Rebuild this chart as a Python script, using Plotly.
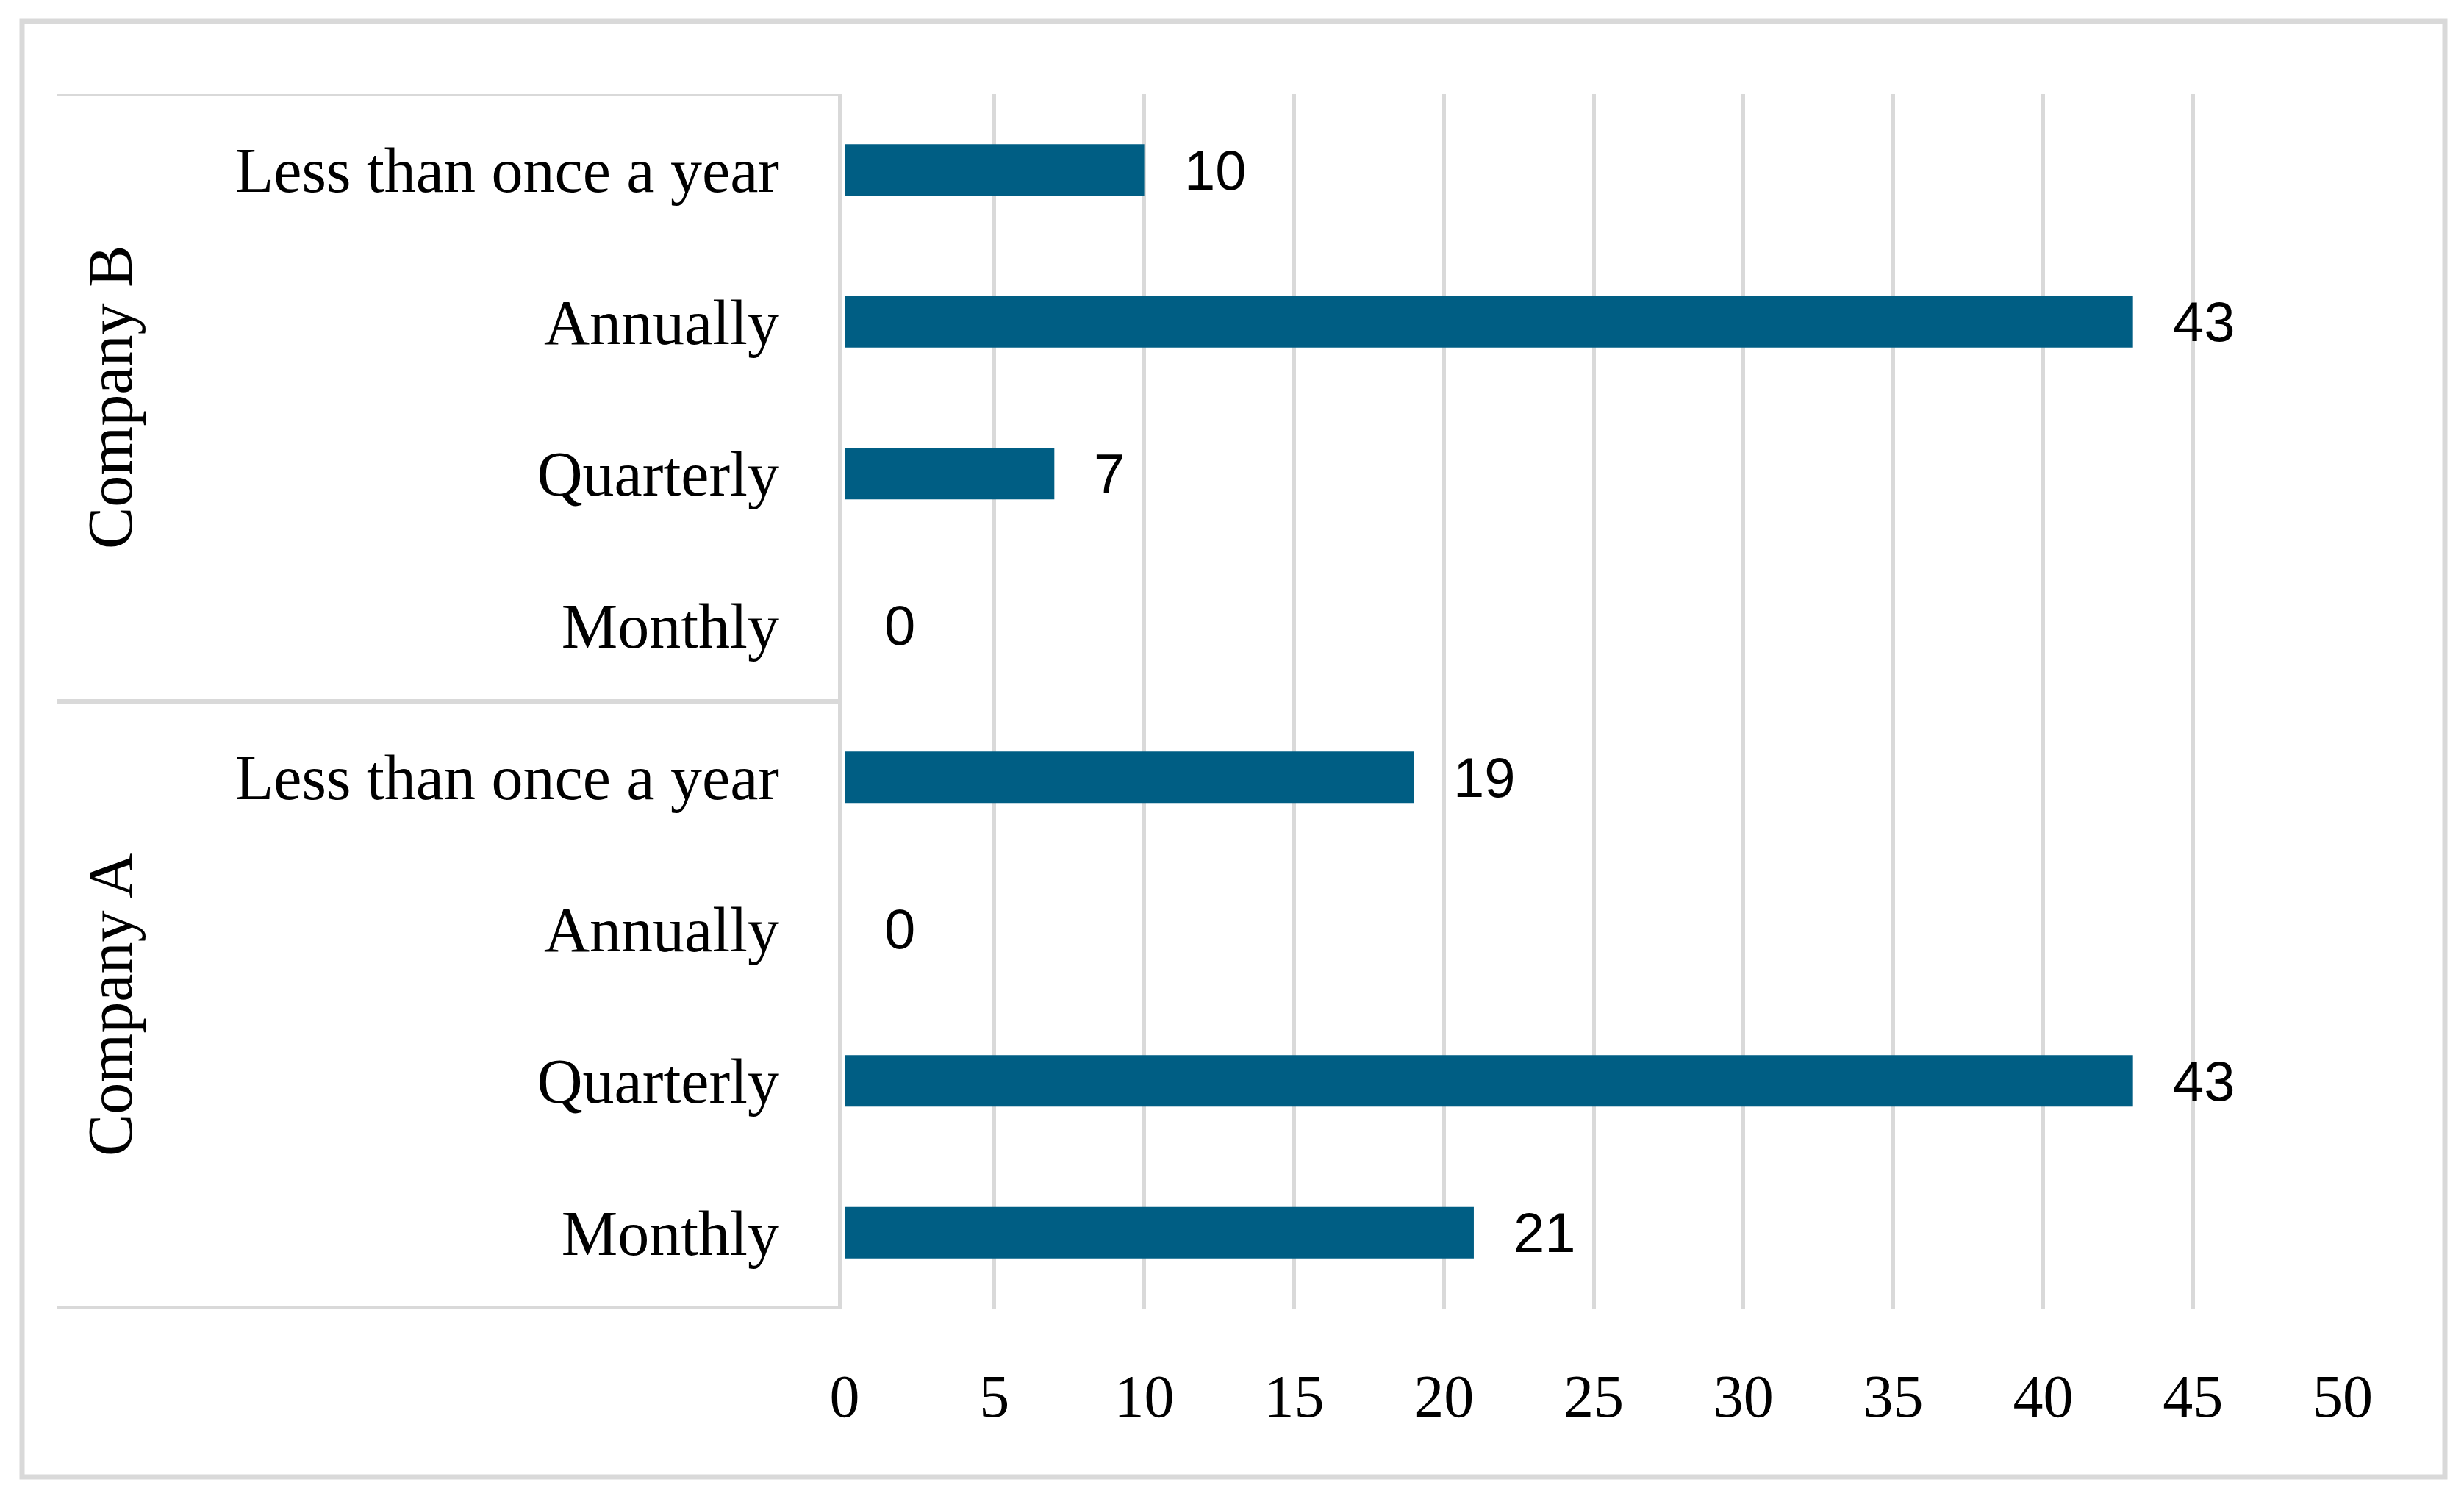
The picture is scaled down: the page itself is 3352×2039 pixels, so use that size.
import plotly.graph_objects as go

# ---- data ----
companies = ["Company A"] * 4 + ["Company B"] * 4
frequencies = ["Monthly", "Quarterly", "Annually", "Less than once a year"] * 2
values = [21, 43, 0, 19, 0, 7, 43, 10]
x_ticks = [0, 5, 10, 15, 20, 25, 30, 35, 40, 45, 50]

# browser body margin compensation
OFF = 8
W, H = 3352 - OFF, 2039 - OFF
L, R, T, B = 1149 - OFF, 3352 - 3187, 128 - OFF, 2039 - 1780
PW, PH = W - L - R, H - T - B


def px_x(p):
    return (p - OFF - L) / PW


def px_y(p):
    return 1 - (p - OFF - T) / PH


keys = [f"{c}|{f}" for c, f in zip(companies, frequencies)]
BAR = "#005E84"
GRID = "#D9D9D9"
SERIF = "Liberation Serif"
SANS = "Liberation Sans"

fig = go.Figure()
fig.add_trace(go.Bar(
    x=values, y=keys, orientation="h",
    marker=dict(color=BAR, line=dict(width=0)),
    showlegend=False, hoverinfo="x+y",
))

# data labels
for k, v in zip(keys, values):
    fig.add_annotation(x=v, y=k, xref="x", yref="y", text=str(v),
                       showarrow=False, xanchor="left", xshift=52,
                       font=dict(family=SANS, size=76, color="#000000"))

# company group labels
for comp in ["Company A", "Company B"]:
    idx = [i for i, c in enumerate(companies) if c == comp]
    mid = (min(idx) + max(idx)) / 2
    fig.add_annotation(x=px_x(150), y=mid, xref="paper", yref="y", text=comp,
                       textangle=-90, showarrow=False,
                       xanchor="center", yanchor="middle",
                       font=dict(family=SERIF, size=86, color="#000000"))

shapes = []
# outer border
shapes.append(dict(type="rect", xref="paper", yref="paper",
                   x0=px_x(30), x1=px_x(3326), y0=px_y(2009), y1=px_y(29),
                   line=dict(color=GRID, width=7), fillcolor="rgba(0,0,0,0)", layer="below"))
# label box lines
for yv in [-0.5, 3.5, 7.5]:
    shapes.append(dict(type="line", xref="paper", yref="y",
                       x0=px_x(77), x1=px_x(1146), y0=yv, y1=yv,
                       line=dict(color=GRID, width=6)))
shapes.append(dict(type="line", xref="paper", yref="y",
                   x0=px_x(1143), x1=px_x(1143), y0=-0.5, y1=7.5,
                   line=dict(color=GRID, width=6)))
fig.update_layout(shapes=shapes)

fig.update_layout(
    width=W, height=H,
    margin=dict(l=L, r=R, t=T, b=B, autoexpand=False),
    paper_bgcolor="white", plot_bgcolor="white",
    bargap=0.66,
    xaxis=dict(range=[0, 50], tickvals=x_ticks, showgrid=True, gridcolor=GRID,
               gridwidth=5, zeroline=False, showline=False, ticks="",
               ticklabelstandoff=64,
               tickfont=dict(family=SERIF, size=82, color="#000000")),
    yaxis=dict(type="category", categoryorder="array", categoryarray=keys,
               range=[-0.5, 7.5], tickvals=keys, ticktext=frequencies,
               showgrid=False, zeroline=False, showline=False, ticks="",
               ticklabelstandoff=88,
               tickfont=dict(family=SERIF, size=86, color="#000000")),
)

fig.write_html("out.html")
